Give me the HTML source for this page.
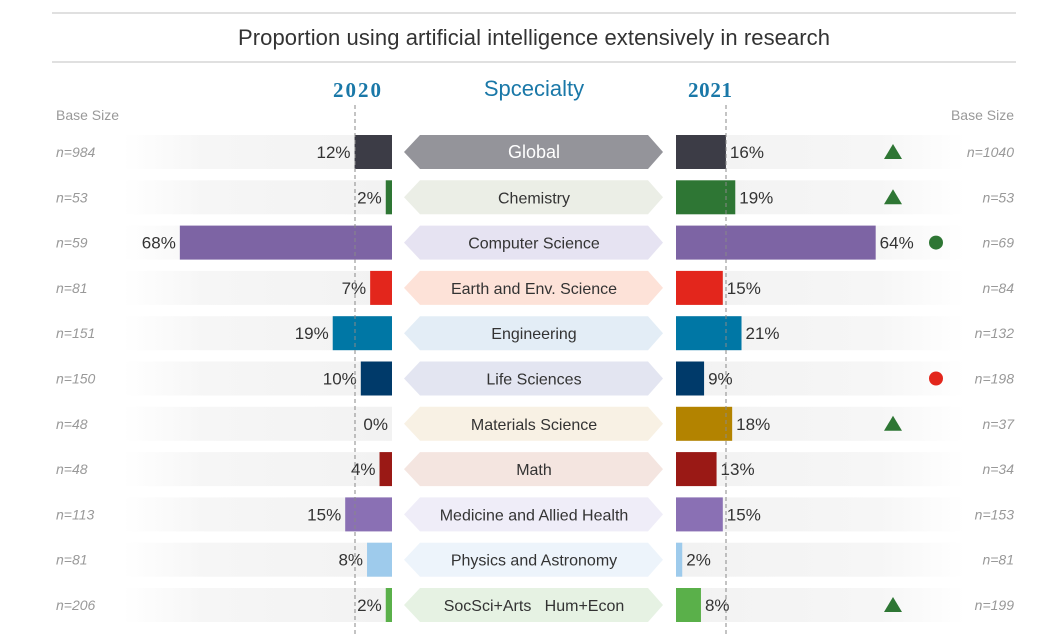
<!DOCTYPE html>
<html><head><meta charset="utf-8"><style>
html,body{margin:0;padding:0;background:#fff;width:1049px;height:637px;overflow:hidden}
svg{display:block}
</style></head><body>
<svg id="chart" width="1049" height="637" xmlns="http://www.w3.org/2000/svg" font-family="Liberation Sans, sans-serif">
<rect x="52" y="12" width="964" height="2" fill="#e0e0e0"/>
<rect x="52" y="61" width="964" height="2" fill="#e0e0e0"/>
<text x="534" y="45" text-anchor="middle" font-size="22" fill="#333" textLength="592">Proportion using artificial intelligence extensively in research</text>
<text x="357" y="97" text-anchor="middle" font-size="21" font-weight="bold" fill="#1a78a8" font-family="Liberation Serif, serif" textLength="48">2020</text>
<text x="534" y="96" text-anchor="middle" font-size="22" fill="#1a78a8">Spcecialty</text>
<text x="710" y="97" text-anchor="middle" font-size="21" font-weight="bold" fill="#1a78a8" font-family="Liberation Serif, serif" textLength="44">2021</text>
<text x="56" y="120" font-size="14" fill="#999">Base Size</text>
<text x="1014" y="120" text-anchor="end" font-size="14" fill="#999">Base Size</text>
<g id="rows"></g>
<line x1="355" y1="105" x2="355" y2="637" stroke="#888" stroke-dasharray="4,3"/>
<line x1="726" y1="105" x2="726" y2="637" stroke="#888" stroke-dasharray="4,3"/>
</svg>
<script>
const categories=["Global","Chemistry","Computer Science","Earth and Env. Science","Engineering","Life Sciences","Materials Science","Math","Medicine and Allied Health","Physics and Astronomy","SocSci+Arts   Hum+Econ"];
const values2020=[12,2,68,7,19,10,0,4,15,8,2];
const values2021=[16,19,64,15,21,9,18,13,15,2,8];
const base2020=["n=984","n=53","n=59","n=81","n=151","n=150","n=48","n=48","n=113","n=81","n=206"];
const base2021=["n=1040","n=53","n=69","n=84","n=132","n=198","n=37","n=34","n=153","n=81","n=199"];
const markers=["up","up","dot-green","","","dot-red","up","","","","up"];
const barColors=["#3c3c46","#2e7634","#7d64a4","#e3261c","#0077a5","#003a6a","#b38300","#9a1915","#8a70b4","#9ecbec","#5ab04a"];
const labelColors=["#94949a","#ebeee6","#e6e3f2","#fde2d8","#e3edf6","#e3e5f1","#f8f1e4","#f4e5e0","#efedf8","#edf4fb","#e6f2e3"];
const NS="http://www.w3.org/2000/svg";
const g=document.getElementById('rows');
const pxPer=3.12, leftEdge=392, rightEdge=676;
const xl=v=>leftEdge-v*pxPer, xr=v=>rightEdge+v*pxPer;
const yc=i=>152+i*45.3;
function mk(tag,attrs){const e=document.createElementNS(NS,tag);for(const k in attrs)e.setAttribute(k,attrs[k]);g.appendChild(e);return e;}
const defs=document.createElementNS(NS,'defs');
defs.innerHTML='<linearGradient id="gl" x1="0" x2="1"><stop offset="0" stop-color="#fff"/><stop offset="0.3" stop-color="#f6f6f6"/><stop offset="1" stop-color="#f2f2f2"/></linearGradient><linearGradient id="gr" x1="0" x2="1"><stop offset="0" stop-color="#f2f2f2"/><stop offset="0.7" stop-color="#f6f6f6"/><stop offset="1" stop-color="#fff"/></linearGradient>';
document.getElementById('chart').prepend(defs);
categories.forEach((c,i)=>{
  const y=yc(i), h=34, t=y-h/2;
  let e;
  e=mk('rect',{x:123,y:t,width:leftEdge-123,height:h,fill:'url(#gl)'});
  
  
  e=mk('rect',{x:rightEdge,y:t,width:965-rightEdge,height:h,fill:'url(#gr)'});
  
  
  e=mk('rect',{x:xl(values2020[i]),y:t,width:values2020[i]*pxPer,height:h,fill:barColors[i]});
  
  
  e=mk('rect',{x:rightEdge,y:t,width:values2021[i]*pxPer,height:h,fill:barColors[i]});
  
  
  e=mk('text',{x:xl(values2020[i])-4,y:y+6,'text-anchor':'end','font-size':17,fill:'#333'});
  e.textContent=values2020[i]+'%';
  
  
  e=mk('text',{x:xr(values2021[i])+4,y:y+6,'font-size':17,fill:'#333'});
  e.textContent=values2021[i]+'%';
  
  
  e=mk('polygon',{points:`404,${y} 420,${t} 648,${t} 663,${y} 648,${t+h} 420,${t+h}`,fill:labelColors[i]});
  
  
  e=mk('text',{x:534,y:y+6,'text-anchor':'middle','font-size':i==0?18:16,fill:i==0?'#fff':'#333',style:'white-space:pre'});
  e.textContent=c;
  
  
  e=mk('text',{x:56,y:y+5,'font-size':14,'font-style':'italic',fill:'#999'});
  e.textContent=base2020[i];
  
  
  e=mk('text',{x:1014,y:y+5,'text-anchor':'end','font-size':14,'font-style':'italic',fill:'#999'});
  e.textContent=base2021[i];
  
  
  if(markers[i]==='up'){
    e=mk('polygon',{points:`884,${y+7} 902,${y+7} 893,${y-8}`,fill:'#2e7634'});
    
    
  } else if(markers[i].startsWith('dot')){
    e=mk('circle',{cx:936,cy:y,r:7,fill:markers[i]==='dot-red'?'#e3261c':'#2e7634'});
    
    
  }
});
</script>
</body></html>
